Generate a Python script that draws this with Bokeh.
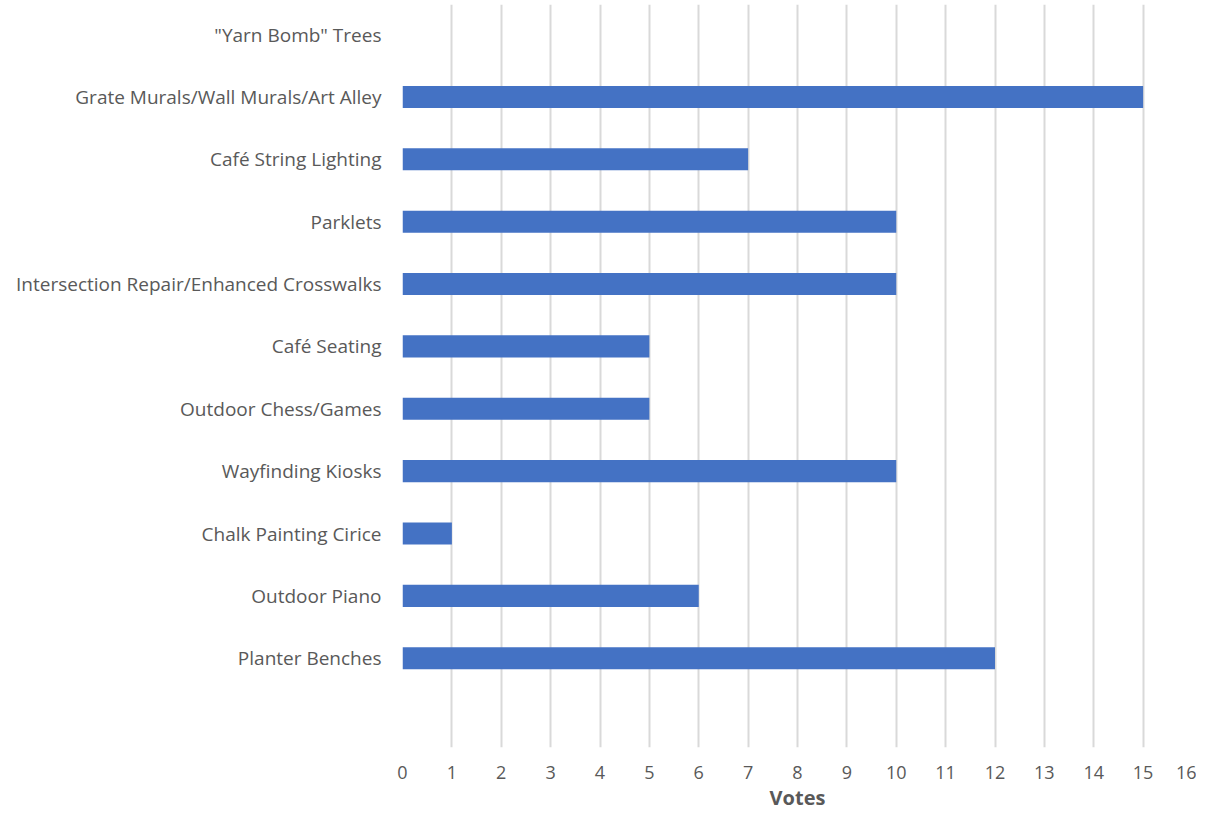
from bokeh.plotting import figure
from bokeh.models import FixedTicker, Range1d
from bokeh.embed import file_html
from bokeh.resources import INLINE

categories = [
    "Planter Benches",
    "Outdoor Piano",
    "Chalk Painting Cirice",
    "Wayfinding Kiosks",
    "Outdoor Chess/Games",
    "Café Seating",
    "Intersection Repair/Enhanced Crosswalks",
    "Parklets",
    "Café String Lighting",
    "Grate Murals/Wall Murals/Art Alley",
    "\"Yarn Bomb\" Trees",
]
votes = [12, 6, 1, 10, 5, 5, 10, 10, 7, 15, 0]
x_ticks = list(range(0, 17))

positions = list(range(1, len(categories) + 1))

FONT = "Open Sans"
GREY = "#595959"

p = figure(width=1196, height=813, output_backend="svg", toolbar_location=None,
           x_range=Range1d(0, 16), y_range=Range1d(-0.431, 11.482),
           min_border_left=402, min_border_right=4, min_border_top=4, min_border_bottom=64)
p.outline_line_color = None

p.hbar(y=positions, right=votes, left=0, height=0.354, fill_color="#4472C4", line_color=None)

p.xaxis.ticker = FixedTicker(ticks=x_ticks)
p.yaxis.ticker = FixedTicker(ticks=positions)
p.yaxis.major_label_overrides = {pos: cat for pos, cat in zip(positions, categories)}

for ax in (p.xaxis, p.yaxis):
    ax.axis_line_color = None
    ax.major_tick_line_color = None
    ax.minor_tick_line_color = None
    ax.major_label_text_font = FONT
    ax.major_label_text_color = GREY

p.yaxis.major_label_text_font_size = "19px"
p.xaxis.major_label_text_font_size = "18px"
p.yaxis.major_label_standoff = 15
p.xaxis.major_label_standoff = 12
p.xaxis.axis_label = "Votes"
p.xaxis.axis_label_text_font = FONT
p.xaxis.axis_label_text_font_size = "20px"
p.xaxis.axis_label_text_font_style = "bold"
p.xaxis.axis_label_text_color = GREY
p.xaxis.axis_label_standoff = 2

p.xgrid.grid_line_color = "#d9d9d9"
p.xgrid.grid_line_width = 2
p.ygrid.grid_line_color = None

open("out.html", "w").write(file_html(p, INLINE))
